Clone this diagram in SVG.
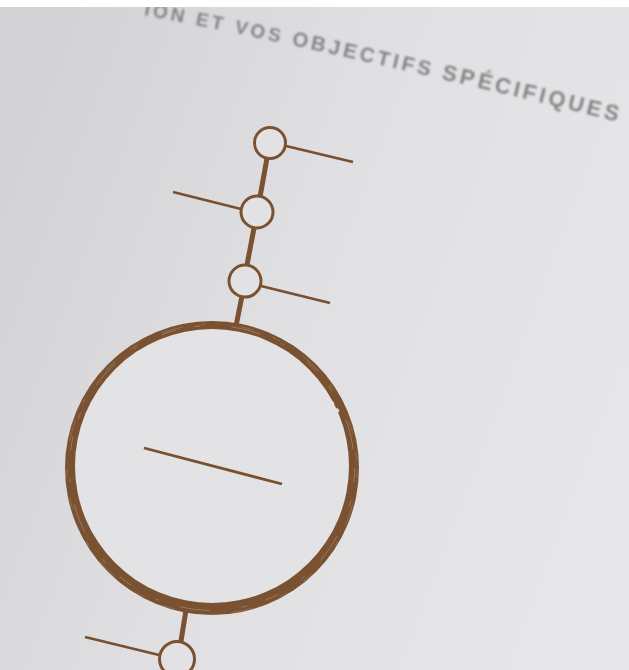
<svg xmlns="http://www.w3.org/2000/svg" width="629" height="670" viewBox="0 0 629 670">
  <defs>
    <linearGradient id="paper" x1="0" y1="0.3" x2="1" y2="0.7">
      <stop offset="0" stop-color="#d3d3d6"/>
      <stop offset="0.45" stop-color="#e0e0e3"/>
      <stop offset="1" stop-color="#e7e7e9"/>
    </linearGradient>
    <filter id="soft" x="-5%" y="-20%" width="110%" height="140%">
      <feGaussianBlur stdDeviation="0.8"/>
    </filter>
    <path id="titlePath" d="M 144 15 Q 330 50 627 124"/>
  </defs>
  <style>
    .spine { stroke: #7a5232; stroke-width: 5; fill: none; }
    .arm { stroke: #77502f; stroke-width: 2.6; fill: none; }
    .node { stroke: #7a5232; stroke-width: 3; fill: #e2e2e4; }
    .streak { fill: none; stroke: #b89f88; }
    .title { font-family: "Liberation Sans", Arial, sans-serif; font-weight: bold; fill: #858385; letter-spacing: 3.3px; }
  </style>

  <rect x="0" y="0" width="629" height="670" fill="url(#paper)"/>

  <g id="title" filter="url(#soft)">
    <text class="title"><textPath href="#titlePath"><tspan font-size="19">ION ET VOS </tspan><tspan font-size="20.5">OBJECTIFS </tspan><tspan font-size="22">SPÉCIFIQUES</tspan></textPath></text>
  </g>
  <rect x="0" y="0" width="629" height="7" fill="#ffffff"/>

  <g id="connectors">
    <line class="spine" x1="267" y1="158" x2="260" y2="197"/>
    <line class="spine" x1="254" y1="228" x2="247" y2="265"/>
    <line class="spine" x1="242" y1="296" x2="236" y2="326"/>
    <line class="spine" x1="186" y1="610" x2="181" y2="641"/>
  </g>

  <g id="node-1">
    <circle class="node" cx="270" cy="143" r="15.5"/>
    <line class="arm" x1="286" y1="146" x2="353" y2="162"/>
  </g>
  <g id="node-2">
    <circle class="node" cx="257" cy="212" r="16"/>
    <line class="arm" x1="173" y1="192" x2="241" y2="209"/>
  </g>
  <g id="node-3">
    <circle class="node" cx="245" cy="281" r="16"/>
    <line class="arm" x1="261" y1="286" x2="330" y2="303"/>
  </g>

  <g id="node-main">
    <circle cx="212" cy="468" r="144" fill="#e3e3e5"/>
    <path fill="#7a5232" fill-rule="evenodd" d="M 65 468 A 147 147 0 1 0 359 468 A 147 147 0 1 0 65 468 Z M 75 466 A 137 137 0 1 1 349 466 A 137 137 0 1 1 75 466 Z"/>
    <circle class="streak" cx="212" cy="468" r="142.5" stroke-width="0.7" stroke-dasharray="14 19 6 32 30 22 4 28" opacity="0.7"/>
    <circle class="streak" cx="212" cy="469" r="145" stroke-width="0.6" stroke-dasharray="9 27 22 18 5 36 12 20" opacity="0.6"/>
    <path d="M 318 392 A 147 147 0 0 1 336 416" fill="none" stroke="#e2e2e4" stroke-width="11" stroke-dasharray="4 3 7 2 3 5"/>
    <line x1="144" y1="448" x2="282" y2="484" stroke="#77502f" stroke-width="2.8"/>
  </g>

  <g id="node-4">
    <circle class="node" cx="177" cy="659" r="17.5"/>
    <line class="arm" x1="85" y1="637" x2="159" y2="655"/>
  </g>
</svg>
